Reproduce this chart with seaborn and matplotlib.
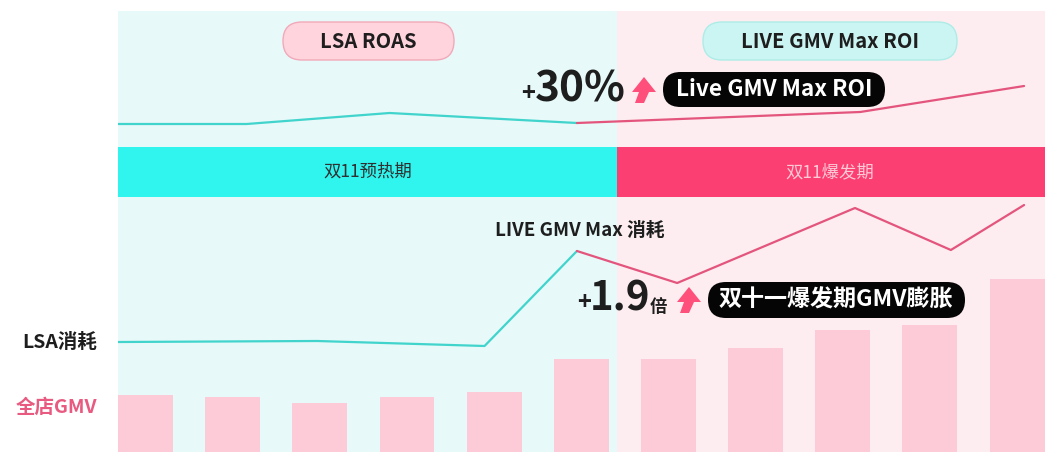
import matplotlib
matplotlib.use('Agg')
import matplotlib.pyplot as plt
import matplotlib.patches as mpatches
from matplotlib.transforms import Affine2D
import seaborn as sns
import pandas as pd

# ---- data (arbitrary units) ----
days = list(range(11))
gmv = [57, 55, 49, 55, 60, 93, 93, 104, 122, 127, 173]

roas_x = [-0.315, 1.16, 2.80, 4.95, 4.95, 8.20, 10.08]
roas_y = [328, 328, 339, 329, 329, 340, 366]
roas_seg = ['LSA', 'LSA', 'LSA', 'LSA', 'LIVE', 'LIVE', 'LIVE']

spend_x = [-0.315, 1.97, 3.89, 4.95, 4.95, 6.10, 8.14, 9.24, 10.08]
spend_y = [110, 111, 106, 201, 201, 169, 244, 202, 247]
spend_seg = ['LSA', 'LSA', 'LSA', 'LSA', 'LIVE', 'LIVE', 'LIVE', 'LIVE', 'LIVE']

period_split = 5.41
band_lo, band_hi = 255, 305

W, H, DPI = 1057, 472, 100
CYAN_BG = '#e7f9f9'
PINK_BG = '#fdedf0'
CYAN = '#40d4cc'
PINK = '#e4557d'
BAR = '#fccbd7'

sns.set_theme(style='white')
plt.rcParams['font.family'] = ['Noto Sans CJK SC', 'DejaVu Sans']

fig = plt.figure(figsize=(W / DPI, H / DPI), dpi=DPI)
fig.patch.set_facecolor('white')
ax = fig.add_axes([118 / W, (H - 452) / H, (1045 - 118) / W, 441 / H])
xmin, xmax = -0.3155, 10.32
ax.set_xlim(xmin, xmax)
ax.set_ylim(0, 441)

# backgrounds for the two periods
ax.axvspan(xmin, period_split, color=CYAN_BG, zorder=0, lw=0)
ax.axvspan(period_split, xmax, color=PINK_BG, zorder=0, lw=0)
ax.fill_between([xmin, period_split], band_lo, band_hi, color='#30f4ee', lw=0, zorder=1)
ax.fill_between([period_split, xmax], band_lo, band_hi, color='#fc3f72', lw=0, zorder=1)

# bars
df_bar = pd.DataFrame({'day': days, 'gmv': gmv})
sns.barplot(data=df_bar, x='day', y='gmv', native_scale=True, width=0.63,
            color=BAR, saturation=1, linewidth=0, ax=ax, zorder=2)

# lines
pal = {'LSA': CYAN, 'LIVE': PINK}
df_roas = pd.DataFrame({'x': roas_x, 'y': roas_y, 'seg': roas_seg})
df_spend = pd.DataFrame({'x': spend_x, 'y': spend_y, 'seg': spend_seg})
sns.lineplot(data=df_roas, x='x', y='y', hue='seg', palette=pal, sort=False,
             estimator=None, lw=1.6, legend=False, ax=ax, zorder=3)
sns.lineplot(data=df_spend, x='x', y='y', hue='seg', palette=pal, sort=False,
             estimator=None, lw=1.6, legend=False, ax=ax, zorder=3)

ax.set_xlim(xmin, xmax)
ax.set_ylim(0, 441)
ax.set_axis_off()

# pixel transform (x from left, y from top)
pix = Affine2D().scale(1 / DPI, -1 / DPI).translate(0, H / DPI) + fig.dpi_scale_trans


def pill(x0, y0, x1, y1, fc, ec='none'):
    h = y1 - y0
    p = mpatches.FancyBboxPatch((x0, y0), x1 - x0, h,
                                boxstyle=f'round,pad=0,rounding_size={h / 2}',
                                fc=fc, ec=ec, lw=1, transform=pix, zorder=5)
    fig.add_artist(p)


def arrow(x0, y0):
    pts = [(12, 0), (24, 15), (17, 15), (12, 26), (3, 26), (7, 15), (0, 15)]
    poly = mpatches.Polygon([(x0 + a, y0 + b) for a, b in pts], closed=True,
                            fc='#ff4f7b', ec='none', transform=pix, zorder=6)
    fig.add_artist(poly)


def txt(x, y, s, size, color='#1e1e1e', ha='center', va='center', weight='bold'):
    fig.text(x, y, s, transform=pix, fontsize=size, color=color, ha=ha, va=va,
             fontweight=weight, zorder=7)


pill(283, 22, 454, 60, '#ffd4dd', '#f2a9b9')
txt(368, 41, 'LSA ROAS', 14.5)
pill(703, 22, 957, 60, '#caf5f3', '#aeece7')
txt(830, 41, 'LIVE GMV Max ROI', 14.5)

txt(535, 94, '+', 17, ha='right')
txt(535, 90, '30%', 30.5, ha='left')
arrow(632, 77)
pill(663, 72, 885, 107, '#050505')
txt(774, 89, 'Live GMV Max ROI', 16.3, color='white')

txt(368, 172, '双11预热期', 12.5, color='#2f2f2f', weight='normal')
txt(830, 172, '双11爆发期', 12.5, color='#ffc9d6', weight='normal')

txt(580, 230, 'LIVE GMV Max 消耗', 13.5)

txt(591, 303, '+', 17, ha='right')
txt(590, 299, '1.9', 29, ha='left')
txt(650, 316, '倍', 12.5, ha='left', va='bottom')
arrow(677, 287)
pill(708, 282, 965, 318, '#050505')
txt(836, 300, '双十一爆发期GMV膨胀', 16.6, color='white')

txt(97, 342, 'LSA消耗', 14, ha='right')
txt(97, 407, '全店GMV', 14, color='#e85a80', ha='right')

fig.savefig('out.png', dpi=DPI)
